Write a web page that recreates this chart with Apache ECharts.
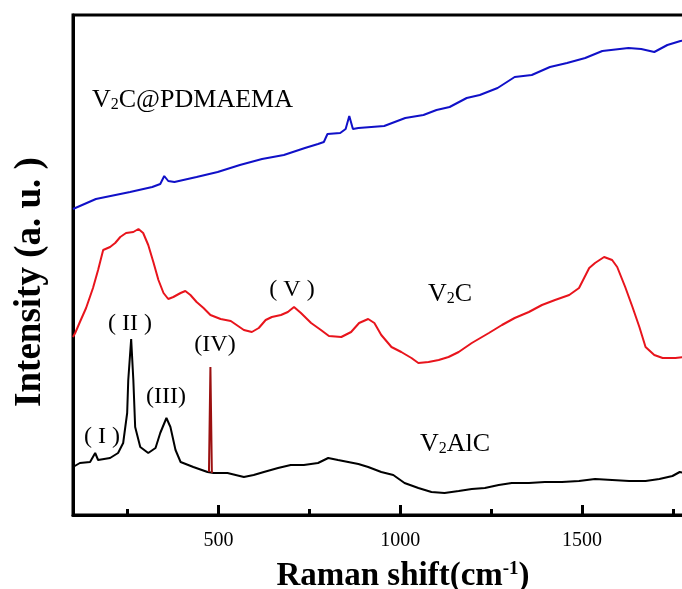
<!DOCTYPE html>
<html><head><meta charset="utf-8">
<script src="https://cdn.jsdelivr.net/npm/echarts@6/dist/echarts.min.js"></script>
<style>html,body{margin:0;padding:0;background:#fff}#c{width:682px;height:589px}</style>
</head><body><div id="c"></div>
<script>
// Raman shift (cm-1) and intensity (arbitrary units, curves offset)
const pdmaemaShift = [100,163,257,318,340,351,362,379,440,498,559,620,680,738,774,790,800,835,850,860,870,885,956,1014,1064,1100,1136,1183,1219,1268,1315,1362,1412,1459,1509,1556,1628,1663,1699,1735,1771,1800];
const pdmaemaIntensity = [306,316,323,328,331,339,334,333,338,343,350,356,360,367,371,373,381,382,386,399,386,387,389,397,400,405,408,417,420,427,438,440,448,452,457,464,467,466,463,470,474,475];

const v2cShift = [100,106,119,136,155,169,183,202,216,230,246,266,280,293,307,321,335,349,362,376,396,409,423,440,459,478,506,534,550,570,592,611,630,647,672,691,708,727,755,782,804,838,865,887,912,929,948,976,1003,1031,1050,1078,1106,1133,1161,1197,1244,1280,1315,1354,1390,1426,1465,1492,1506,1520,1536,1561,1583,1597,1619,1639,1658,1675,1699,1722,1757,1782,1800];
const v2cIntensity = [178,182,193,207,227,245,265,268,272,278,282,283,286,282,270,253,235,222,216,218,222,224,220,213,207,200,196,194,190,185,183,187,195,198,200,203,208,202,192,185,179,178,183,192,196,192,180,168,163,157,152,153,155,158,163,172,182,190,197,203,210,215,220,227,237,247,252,258,255,248,228,208,188,168,160,157,157,158,158];

const v2alcShift = [100,119,147,161,169,202,224,238,249,252,260,266,271,285,307,327,340,357,368,382,396,431,470,487,525,570,597,625,664,699,735,774,802,829,857,885,912,948,981,1012,1050,1086,1122,1161,1197,1233,1271,1307,1354,1398,1445,1492,1536,1583,1630,1675,1713,1749,1769,1782,1800];
const v2alcIntensity = [48,52,53,62,55,57,62,72,102,135,176,135,88,68,62,67,82,97,88,65,53,48,43,42,42,38,40,43,47,50,50,52,57,55,53,51,48,43,40,32,27,23,22,24,26,27,30,32,32,33,33,34,36,35,34,34,36,39,43,42,42];

const spikeShift = [474,478,482];
const spikeIntensity = [43,148,42];

const majorTicks = [500,1000,1500];
const minorTicks = [250,750,1250,1750];

const zip = (a,b) => a.map((v,i)=>[v,b[i]]);
const FONT = '"Liberation Serif","Times New Roman",serif';

const chart = echarts.init(document.getElementById('c'));
const lineSeries = (data, color, w, smooth) => ({
  type:'line', data, showSymbol:false, symbol:'none', smooth: smooth||false,
  lineStyle:{color, width:w}, itemStyle:{color}, animation:false, xAxisIndex:0, yAxisIndex:0
});

function txt(x, y, rich, text, align){
  return {type:'text', x, y, style:{text, rich, align:align||'center', verticalAlign:'middle', fill:'#000', font:'24px '+FONT}};
}
const subRich = {
  a:{fontFamily:FONT, fontSize:26, color:'#000', verticalAlign:'bottom'},
  s:{fontFamily:FONT, fontSize:16, color:'#000', verticalAlign:'bottom'}
};
const romRich = {r:{fontFamily:FONT, fontSize:24, color:'#000'}};

chart.setOption({
  animation:false,
  backgroundColor:'#fff',
  grid:{left:73, top:15, right:-9, bottom:74, show:true, borderColor:'#000', borderWidth:3, outerBoundsMode:'none'},
  xAxis:[
    {type:'value', min:100, max:1800, gridIndex:0, position:'bottom',
     axisLine:{show:true, lineStyle:{color:'#000', width:3}},
     axisTick:{show:true, inside:true, length:10, customValues:majorTicks, lineStyle:{color:'#000', width:3}},
     axisLabel:{show:true, customValues:majorTicks, margin:16, color:'#000', fontFamily:FONT, fontSize:20, formatter:(v)=>String(v)},
     splitLine:{show:false}},
    {type:'value', min:100, max:1800, gridIndex:0, position:'bottom',
     axisLine:{show:false},
     axisTick:{show:true, inside:true, length:6, customValues:minorTicks, lineStyle:{color:'#000', width:3}},
     axisLabel:{show:false}, splitLine:{show:false}}
  ],
  yAxis:{type:'value', min:0, max:500, axisLine:{show:true, lineStyle:{color:'#000', width:3}}, axisTick:{show:false}, axisLabel:{show:false}, splitLine:{show:false}},
  series:[
    lineSeries(zip(v2alcShift, v2alcIntensity), '#000000', 2),
    lineSeries(zip(spikeShift, spikeIntensity), '#9b1010', 2),
    lineSeries(zip(v2cShift, v2cIntensity), '#e8141c', 2),
    lineSeries(zip(pdmaemaShift, pdmaemaIntensity), '#1010c8', 2)
  ],
  graphic:[
    txt(92, 100, subRich, '{a|V}{s|2}{a|C@PDMAEMA}', 'left'),
    txt(450, 294, subRich, '{a|V}{s|2}{a|C}'),
    txt(455, 444, subRich, '{a|V}{s|2}{a|AlC}'),
    txt(292, 290, romRich, '{r|( V )}'),
    txt(130, 324, romRich, '{r|( II )}'),
    txt(215, 345, romRich, '{r|(IV)}'),
    txt(166, 397, romRich, '{r|(III)}'),
    txt(102, 437, romRich, '{r|( I )}'),
    {type:'text', x:403, y:576, style:{text:'{t|Raman shift(cm}{u|-1}{t|)}', align:'center', verticalAlign:'middle',
      rich:{t:{fontFamily:FONT, fontSize:33, fontWeight:'bold', color:'#000', verticalAlign:'bottom'},
            u:{fontFamily:FONT, fontSize:19, fontWeight:'bold', color:'#000', verticalAlign:'top'}}}},
    {type:'text', x:30, y:282, rotation:Math.PI/2, style:{text:'Intensity (a. u. )', align:'center', verticalAlign:'middle', fill:'#000', font:'bold 37px '+FONT}}
  ]
});
</script></body></html>
